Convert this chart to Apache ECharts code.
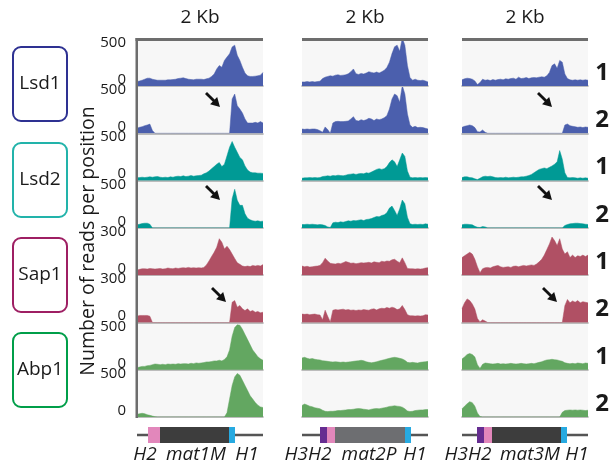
<!DOCTYPE html>
<html><head><meta charset="utf-8">
<script src="https://cdn.jsdelivr.net/npm/echarts@6/dist/echarts.min.js"></script>
<style>html,body{margin:0;padding:0;background:#fff}#c{width:611px;height:472px}</style>
</head><body><div id="c"></div>
<script>
// ---------- data ----------
const bins = [0,1,2,3,4,5,6,7,8,9,10,11,12,13,14,15,16,17,18,19,20,21,22,23,24,25,26,27,28,29,30,31,32,33,34,35,36,37,38,39,40,41,42,43,44,45,46,47,48,49];
const columnTitles = ['2 Kb','2 Kb','2 Kb'];
const proteins = ['Lsd1','Lsd2','Sap1','Abp1'];
const replicateLabels = ['1','2','1','2','1','2','1','2'];
const rowMax = [500,500,500,500,300,300,500,500];
const locusLabels = [['H2','mat1M','H1'],['H3H2','mat2P','H1'],['H3H2','mat3M','H1']];

// mat1M column
const lsd1_r1_mat1 = [48,55,63,74,85,85,74,67,63,63,63,63,67,67,70,74,81,85,89,81,74,70,67,74,74,74,70,78,85,104,130,185,222,204,278,315,350,425,444,333,278,204,140,111,104,104,107,111,118,148];
const lsd1_r2_mat1 = [54,65,72,83,90,100,30,0,0,0,0,0,0,0,0,0,0,0,0,0,0,0,0,0,0,0,0,0,0,0,0,0,0,0,0,0,0,373,427,300,264,221,155,112,112,112,119,112,127,112];
const lsd2_r1_mat1 = [30,33,37,33,37,41,37,41,44,37,33,37,33,41,37,44,48,44,52,44,48,55,48,52,55,59,74,85,104,130,152,178,196,152,178,270,363,425,363,307,252,226,159,115,93,85,85,81,81,78];
const lsd2_r2_mat1 = [33,40,47,51,51,40,0,0,0,0,0,0,0,0,0,0,0,0,0,0,0,0,0,0,0,0,0,0,0,0,0,0,0,0,0,0,0,318,420,300,245,245,153,106,88,77,73,77,70,73];
const sap1_r1_mat1 = [33,38,42,42,40,44,42,40,42,44,40,42,47,44,42,47,44,47,49,47,51,47,49,47,49,47,51,67,93,122,149,182,238,215,171,189,167,138,109,82,71,60,56,60,56,64,60,64,60,69];
const sap1_r2_mat1 = [41,46,46,46,46,41,0,0,0,0,0,0,0,0,0,0,0,0,0,0,0,0,0,0,0,0,0,0,0,0,0,0,0,0,0,0,0,132,143,100,111,89,78,89,72,78,67,72,63,67];
const abp1_r1_mat1 = [22,30,37,37,45,48,56,63,60,56,60,56,63,60,63,60,67,63,67,67,63,71,67,75,71,75,78,86,86,90,97,97,104,97,112,142,216,366,459,489,485,440,384,328,272,216,179,142,119,104];
const abp1_r2_mat1 = [30,37,41,37,26,19,11,4,0,0,0,0,0,0,0,0,0,0,0,0,0,0,0,0,0,0,0,0,0,0,0,0,0,0,0,48,196,344,437,474,455,400,344,289,233,196,159,130,111,104];
// mat2P column
const lsd1_r1_mat2 = [44,44,48,44,48,44,48,52,81,96,104,111,107,118,122,115,118,122,133,155,185,133,126,137,130,141,155,148,141,152,141,155,170,200,259,352,426,444,377,520,444,222,92,63,74,63,59,63,55,44];
const lsd1_r2_mat2 = [47,43,47,43,47,47,40,29,11,69,40,0,112,127,130,127,127,130,134,156,181,138,134,148,138,148,163,156,138,156,148,156,170,192,264,373,427,409,337,520,427,210,90,65,76,62,65,62,54,47];
const lsd2_r1_mat2 = [26,30,30,33,30,33,30,33,44,48,52,48,55,52,59,55,52,59,67,70,74,67,74,78,74,85,81,93,107,122,130,122,130,152,196,226,204,152,226,300,263,104,37,30,33,30,33,30,33,30];
const lsd2_r2_mat2 = [37,37,40,37,40,37,33,37,33,26,11,4,55,62,58,66,62,69,77,73,80,77,84,88,80,91,95,102,113,124,120,135,142,164,215,237,190,135,208,303,263,117,44,37,40,37,40,37,44,40];
const sap1_r1_mat2 = [60,55,58,53,55,58,60,64,82,111,93,78,75,73,78,75,82,89,84,78,80,75,78,82,80,82,84,80,87,84,82,91,87,93,91,100,104,91,82,113,82,44,42,42,40,42,40,42,47,49];
const sap1_r2_mat2 = [55,53,55,51,53,55,51,49,18,80,40,4,80,84,82,84,87,82,84,80,82,78,82,80,84,82,80,87,89,82,89,93,91,98,93,100,95,84,89,111,84,51,44,44,42,44,42,44,51,49];
const abp1_r1_mat2 = [129,136,125,118,122,114,110,107,99,96,92,88,85,88,85,81,85,81,85,88,92,96,99,103,99,88,81,77,81,88,96,103,110,118,125,132,136,132,125,118,103,81,77,81,77,74,81,85,88,92];
const abp1_r2_mat2 = [127,142,131,119,112,101,97,90,75,63,60,63,63,67,71,71,75,78,82,82,86,90,93,90,86,82,78,86,90,93,90,97,101,108,116,119,123,119,116,108,90,67,60,63,71,75,78,78,82,82];
// mat3M column
const lsd1_r1_mat3 = [67,78,85,81,74,55,15,37,74,63,67,59,70,63,70,74,67,78,74,81,85,74,96,81,85,92,81,89,92,89,96,100,96,111,148,222,241,192,278,259,130,81,67,63,67,63,67,63,67,63];
const lsd1_r2_mat3 = [65,76,83,90,83,62,18,14,36,11,0,0,0,0,0,0,0,0,0,0,0,0,0,0,0,0,0,0,0,0,0,0,0,0,0,0,0,0,0,0,90,101,83,76,72,65,69,62,69,65];
const lsd2_r1_mat3 = [33,41,41,33,30,19,11,26,41,48,44,48,41,33,30,33,30,37,30,33,37,33,37,41,41,48,55,67,85,104,122,130,137,130,144,159,178,204,326,233,85,33,30,33,30,26,30,26,30,26];
const lsd2_r2_mat3 = [33,40,40,37,33,18,7,4,15,11,0,0,0,0,0,0,0,0,0,0,0,0,0,0,0,0,0,0,0,0,0,0,0,0,0,0,0,0,0,0,26,37,44,47,51,51,47,44,40,37];
const sap1_r1_mat3 = [115,127,138,149,138,104,55,16,42,49,51,47,55,60,64,55,51,53,55,51,58,60,55,60,64,60,64,67,64,73,87,104,131,167,204,249,226,193,238,171,138,153,115,131,115,127,122,131,122,131];
const sap1_r2_mat3 = [92,128,154,143,121,88,26,4,18,9,0,0,0,0,0,0,0,0,0,0,0,0,0,0,0,0,0,0,0,0,0,0,0,0,0,0,0,0,0,0,110,150,128,141,132,143,128,136,132,128];
const abp1_r1_mat3 = [118,140,166,177,166,140,55,15,59,74,70,66,63,66,70,63,66,63,66,70,66,63,66,70,66,63,66,70,66,74,81,88,99,107,110,114,110,107,99,92,77,70,66,70,66,74,70,66,74,70];
const abp1_r2_mat3 = [90,119,145,168,157,119,45,7,0,0,0,0,0,0,0,0,0,0,0,0,0,0,0,0,0,0,0,0,0,0,0,0,0,0,0,0,0,0,0,52,71,75,78,75,78,75,78,75,71,75];

// ---------- layout ----------
const tracks = [
  [lsd1_r1_mat1, lsd1_r1_mat2, lsd1_r1_mat3],
  [lsd1_r2_mat1, lsd1_r2_mat2, lsd1_r2_mat3],
  [lsd2_r1_mat1, lsd2_r1_mat2, lsd2_r1_mat3],
  [lsd2_r2_mat1, lsd2_r2_mat2, lsd2_r2_mat3],
  [sap1_r1_mat1, sap1_r1_mat2, sap1_r1_mat3],
  [sap1_r2_mat1, sap1_r2_mat2, sap1_r2_mat3],
  [abp1_r1_mat1, abp1_r1_mat2, abp1_r1_mat3],
  [abp1_r2_mat1, abp1_r2_mat2, abp1_r2_mat3]
];
const trackColors = ['#4b5fad','#4b5fad','#009a95','#009a95','#b05064','#b05064','#63a761','#63a761'];
const boxColors = ['#2e3192','#22b3aa','#9e1f63','#009e49'];
const colLeft = [137, 302, 462];
const colW = 126;
const rowBase = r => 86 + r * 47.3;
const FONT = '"Open Sans", "Liberation Sans", sans-serif';
const INK = '#1a1a1a';

const grid = [], xAxis = [], yAxis = [], series = [];
for (let r = 0; r < 8; r++) {
  for (let c = 0; c < 3; c++) {
    const i = grid.length;
    grid.push({left: colLeft[c], top: rowBase(r) - 46, width: colW, height: 46,
      show: true, backgroundColor: '#f7f7f7', borderWidth: 0});
    xAxis.push({gridIndex: i, type: 'category', data: bins, boundaryGap: false,
      axisLine: {show: true, lineStyle: {color: '#a6a6a6', width: 1.6}},
      axisTick: {show: false}, axisLabel: {show: false}, splitLine: {show: false}});
    yAxis.push({gridIndex: i, type: 'value', min: 0, max: rowMax[r], interval: rowMax[r],
      axisLine: {show: false}, axisTick: {show: false}, splitLine: {show: false},
      axisLabel: c === 0 ? {
        show: true, margin: 11, color: INK, fontFamily: FONT, fontSize: 15,
        formatter: v => v === 0 ? '{z|0}' : '{m|' + v + '}',
        rich: {z: {fontSize: 15, fontFamily: FONT, color: INK, padding: [0, 0, 13, 0]},
               m: {fontSize: 15, fontFamily: FONT, color: INK, padding: [5, 0, 0, 0]}}
      } : {show: false}});
    series.push({type: 'line', xAxisIndex: i, yAxisIndex: i, data: tracks[r][c],
      symbol: 'none', silent: true, clip: true, z: 1,
      lineStyle: {width: 0.5, color: trackColors[r]},
      areaStyle: {color: trackColors[r], opacity: 1}});
  }
}

// ---------- decorations ----------
const graphic = [];
for (let c = 0; c < 3; c++) {
  graphic.push({type: 'rect', shape: {x: colLeft[c] - (c === 0 ? 1.5 : 0), y: 38, width: colW + (c === 0 ? 1.5 : 0), height: 3}, style: {fill: '#6d6d6d'}, z: 10});
  graphic.push({type: 'text', x: colLeft[c] + colW / 2, y: 18, style: {text: columnTitles[c], font: '19px ' + FONT, fill: INK, textAlign: 'center', textVerticalAlign: 'middle'}});
}
graphic.push({type: 'rect', shape: {x: 135.5, y: 38, width: 2.5, height: 380}, style: {fill: '#6d6d6d'}, z: 10});
const boxTops = [47, 143, 238, 333];
for (let p = 0; p < 4; p++) {
  graphic.push({type: 'rect', shape: {x: 13, y: boxTops[p], width: 54, height: 74, r: 8},
    style: {fill: 'none', stroke: boxColors[p], lineWidth: 2}});
  graphic.push({type: 'text', x: 40, y: boxTops[p] + 37, style: {text: proteins[p], font: '19px ' + FONT, fill: INK, textAlign: 'center', textVerticalAlign: 'middle'}});
}
graphic.push({type: 'text', x: 88, y: 241, rotation: Math.PI / 2,
  style: {text: 'Number of reads per position', font: '19.5px ' + FONT, fill: INK, textAlign: 'center', textVerticalAlign: 'middle'}});
for (let r = 0; r < 8; r++) {
  graphic.push({type: 'text', x: 602, y: rowBase(r) - 13, style: {text: replicateLabels[r], font: 'bold 24px ' + FONT, fill: INK, textAlign: 'center', textVerticalAlign: 'middle'}});
}
function arrow(x1, y1, x2, y2) {
  const dx = x2 - x1, dy = y2 - y1, L = Math.sqrt(dx * dx + dy * dy), ux = dx / L, uy = dy / L;
  const bx = x2 - ux * 9, by = y2 - uy * 9;
  graphic.push({type: 'line', shape: {x1: x1, y1: y1, x2: bx + ux, y2: by + uy}, style: {stroke: '#111', lineWidth: 2.8}, z: 20});
  graphic.push({type: 'polygon', shape: {points: [[x2, y2], [bx - uy * 5, by + ux * 5], [bx + uy * 5, by - ux * 5]]}, style: {fill: '#111'}, z: 20});
}
arrow(206, 93, 220, 107);
arrow(206, 186, 220, 200);
arrow(212, 288, 226, 302);
arrow(538, 93, 552, 107);
arrow(538, 186, 552, 200);
arrow(543, 288, 557, 302);
const geneY = 435;
const segs = [
  [[148, 160, '#e287bb'], [160, 229, '#3d3d3d'], [229, 235, '#27aae1']],
  [[320, 327, '#662d91'], [327, 335, '#e287bb'], [335, 405, '#6d6e71'], [405, 411, '#27aae1']],
  [[477, 484, '#662d91'], [484, 492, '#e287bb'], [492, 561, '#3d3d3d'], [561, 567, '#27aae1']]
];
const labelX = [[145, 196, 247], [308, 369, 415], [468, 530, 577]];
for (let c = 0; c < 3; c++) {
  graphic.push({type: 'line', shape: {x1: colLeft[c], y1: geneY, x2: colLeft[c] + colW, y2: geneY}, style: {stroke: '#555', lineWidth: 2.5}});
  segs[c].forEach(s => graphic.push({type: 'rect', shape: {x: s[0], y: geneY - 8, width: s[1] - s[0], height: 16}, style: {fill: s[2]}}));
  for (let k = 0; k < 3; k++) {
    graphic.push({type: 'text', x: labelX[c][k], y: 455, style: {text: locusLabels[c][k], font: 'italic 19px ' + FONT, fill: INK, textAlign: 'center', textVerticalAlign: 'middle'}});
  }
}

const chart = echarts.init(document.getElementById('c'), null, {renderer: 'canvas'});
chart.setOption({animation: false, backgroundColor: '#fff', grid, xAxis, yAxis, series, graphic});
</script></body></html>
